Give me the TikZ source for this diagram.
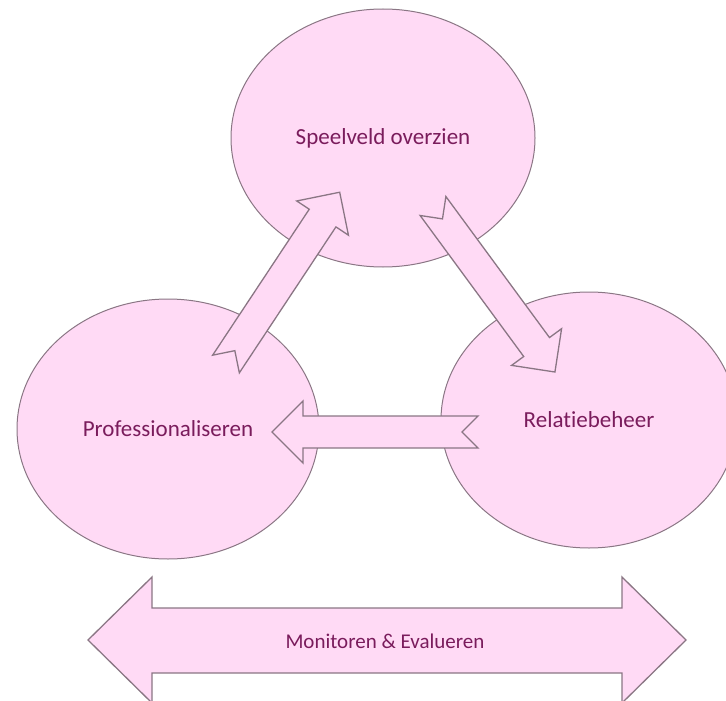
\documentclass[tikz,border=0pt]{standalone}
\usepackage{fontspec}
\setmainfont[Ligatures={CommonOff,ContextualOff}]{Carlito}
\usetikzlibrary{shapes.geometric}

\definecolor{bubblepink}{RGB}{255,218,245}
\definecolor{rimgray}{RGB}{138,118,132}
\definecolor{labelplum}{RGB}{122,28,92}

\tikzset{
  bubble/.style={ellipse, draw=rimgray, fill=bubblepink, line width=1pt, inner sep=0pt,
    text=labelplum, font=\fontsize{23}{27}\selectfont},
  bandtext/.style={text=labelplum, font=\fontsize{21}{25}\selectfont},
  blockarrow/.style={draw=rimgray, fill=bubblepink, line width=1.3pt, line join=miter},
  pics/notcharrow/.style={code={
    \draw[blockarrow] (0,16) -- (175,16) -- (175,31) -- (206,0) -- (175,-31)
      -- (175,-16) -- (0,-16) -- (16,0) -- cycle;
  }}
}

\begin{document}
\begin{tikzpicture}[x=1pt, y=-1pt]
    \useasboundingbox (0,0) rectangle (726,701);
    \clip (0,0) rectangle (726,701);

    % Draw the three ellipses
    \node[bubble, minimum width=304pt, minimum height=258pt] (speelveld) at (383,138) {Speelveld overzien};
    \node[bubble, minimum width=302pt, minimum height=260pt] (prof) at (168,429) {Professionaliseren};
    \node[bubble, minimum width=296pt, minimum height=256pt] (relatie) at (589,420) {Relatiebeheer};

    % Notched arrows between the ellipses
    \pic[rotate=56.5] at (226,364) {notcharrow};
    \pic[rotate=-53.7] at (433,206) {notcharrow};
    \pic[rotate=180] at (478,432) {notcharrow};

    % Double arrow at the bottom
    \draw[blockarrow] (88,640) -- (152,577) -- (152,608) -- (622,608) -- (622,577)
        -- (686,640) -- (622,703) -- (622,673) -- (152,673) -- (152,703) -- cycle;
    \node[bandtext] (monitor) at (385,641) {Monitoren \& Evalueren};
\end{tikzpicture}
\end{document}
